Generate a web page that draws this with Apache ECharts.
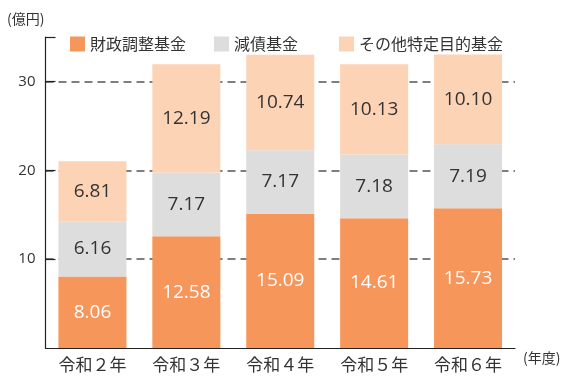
<!DOCTYPE html>
<html>
<head>
<meta charset="utf-8">
<script src="https://cdn.jsdelivr.net/npm/echarts@6/dist/echarts.min.js"></script>
<style>
  html, body { margin: 0; padding: 0; background: #fff; }
  #chart { width: 577px; height: 377px; }
</style>
</head>
<body>
<div id="chart"></div>
<script>
var years = ['令和２年', '令和３年', '令和４年', '令和５年', '令和６年'];
var zaisei = [8.06, 12.58, 15.09, 14.61, 15.73];      // 財政調整基金
var gensai = [6.16, 7.17, 7.17, 7.18, 7.19];          // 減債基金
var sonota = [6.81, 12.19, 10.74, 10.13, 10.10];      // その他特定目的基金
var yLabels = [10, 20, 30];
var yTicks = [10, 20, 30, 35];

var jp = '"Noto Sans CJK JP", "Noto Sans", sans-serif';
var num = '"Open Sans", "Noto Sans", sans-serif';

var myChart = echarts.init(document.getElementById('chart'));

function barSeries(name, data, color, labelColor) {
    return {
        name: name,
        type: 'bar',
        stack: 'total',
        barWidth: 68,
        itemStyle: { color: color },
        label: {
            show: true,
            position: 'inside',
            color: labelColor,
            fontFamily: num,
            fontSize: 19,
            formatter: function (p) { return p.value.toFixed(2); }
        },
        data: data
    };
}

function legendAt(left, name) {
    return {
        left: left,
        top: 31,
        itemWidth: 15,
        itemHeight: 15,
        itemGap: 0,
        icon: 'rect',
        textStyle: { fontSize: 16, color: '#333', fontFamily: jp },
        data: [name]
    };
}

var axisColor = '#222';

var option = {
    animation: false,
    backgroundColor: '#fff',
    textStyle: { fontFamily: jp },
    graphic: [{
        type: 'text',
        left: 7,
        top: 12,
        style: { text: '(億円)', font: '14px ' + jp, fill: '#333' }
    }],
    legend: [
        legendAt(65, '財政調整基金'),
        legendAt(209, '減債基金'),
        legendAt(334, 'その他特定目的基金')
    ],
    grid: { left: 45.5, right: 62, top: 37, bottom: 29 },
    xAxis: {
        type: 'category',
        data: years,
        name: '(年度)',
        nameLocation: 'end',
        nameGap: 8,
        nameTextStyle: { fontSize: 14, color: '#333', fontFamily: jp, verticalAlign: 'top', padding: [3, 0, 0, 0] },
        axisLine: { lineStyle: { color: axisColor, width: 1.2 } },
        axisTick: { show: false },
        axisLabel: { fontSize: 17, color: '#333', fontFamily: jp, margin: 8 }
    },
    yAxis: {
        type: 'value',
        min: 0,
        max: 35,
        interval: 10,
        axisLine: { show: true, lineStyle: { color: axisColor, width: 1.2 } },
        axisTick: {
            show: true, inside: false, length: -10,
            customValues: yTicks,
            lineStyle: { color: axisColor, width: 1.2 }
        },
        axisLabel: {
            fontSize: 15, color: '#333', fontFamily: num, margin: 10,
            customValues: yLabels
        },
        splitLine: {
            show: true,
            showMinLine: true,
            showMaxLine: false,
            lineStyle: { color: '#555', type: [8, 5], width: 1.5 }
        }
    },
    series: [
        barSeries('財政調整基金', zaisei, '#F6965A', '#fff'),
        barSeries('減債基金', gensai, '#DDDDDD', '#333'),
        barSeries('その他特定目的基金', sonota, '#FDD3B6', '#333')
    ]
};

myChart.setOption(option);
</script>
</body>
</html>
